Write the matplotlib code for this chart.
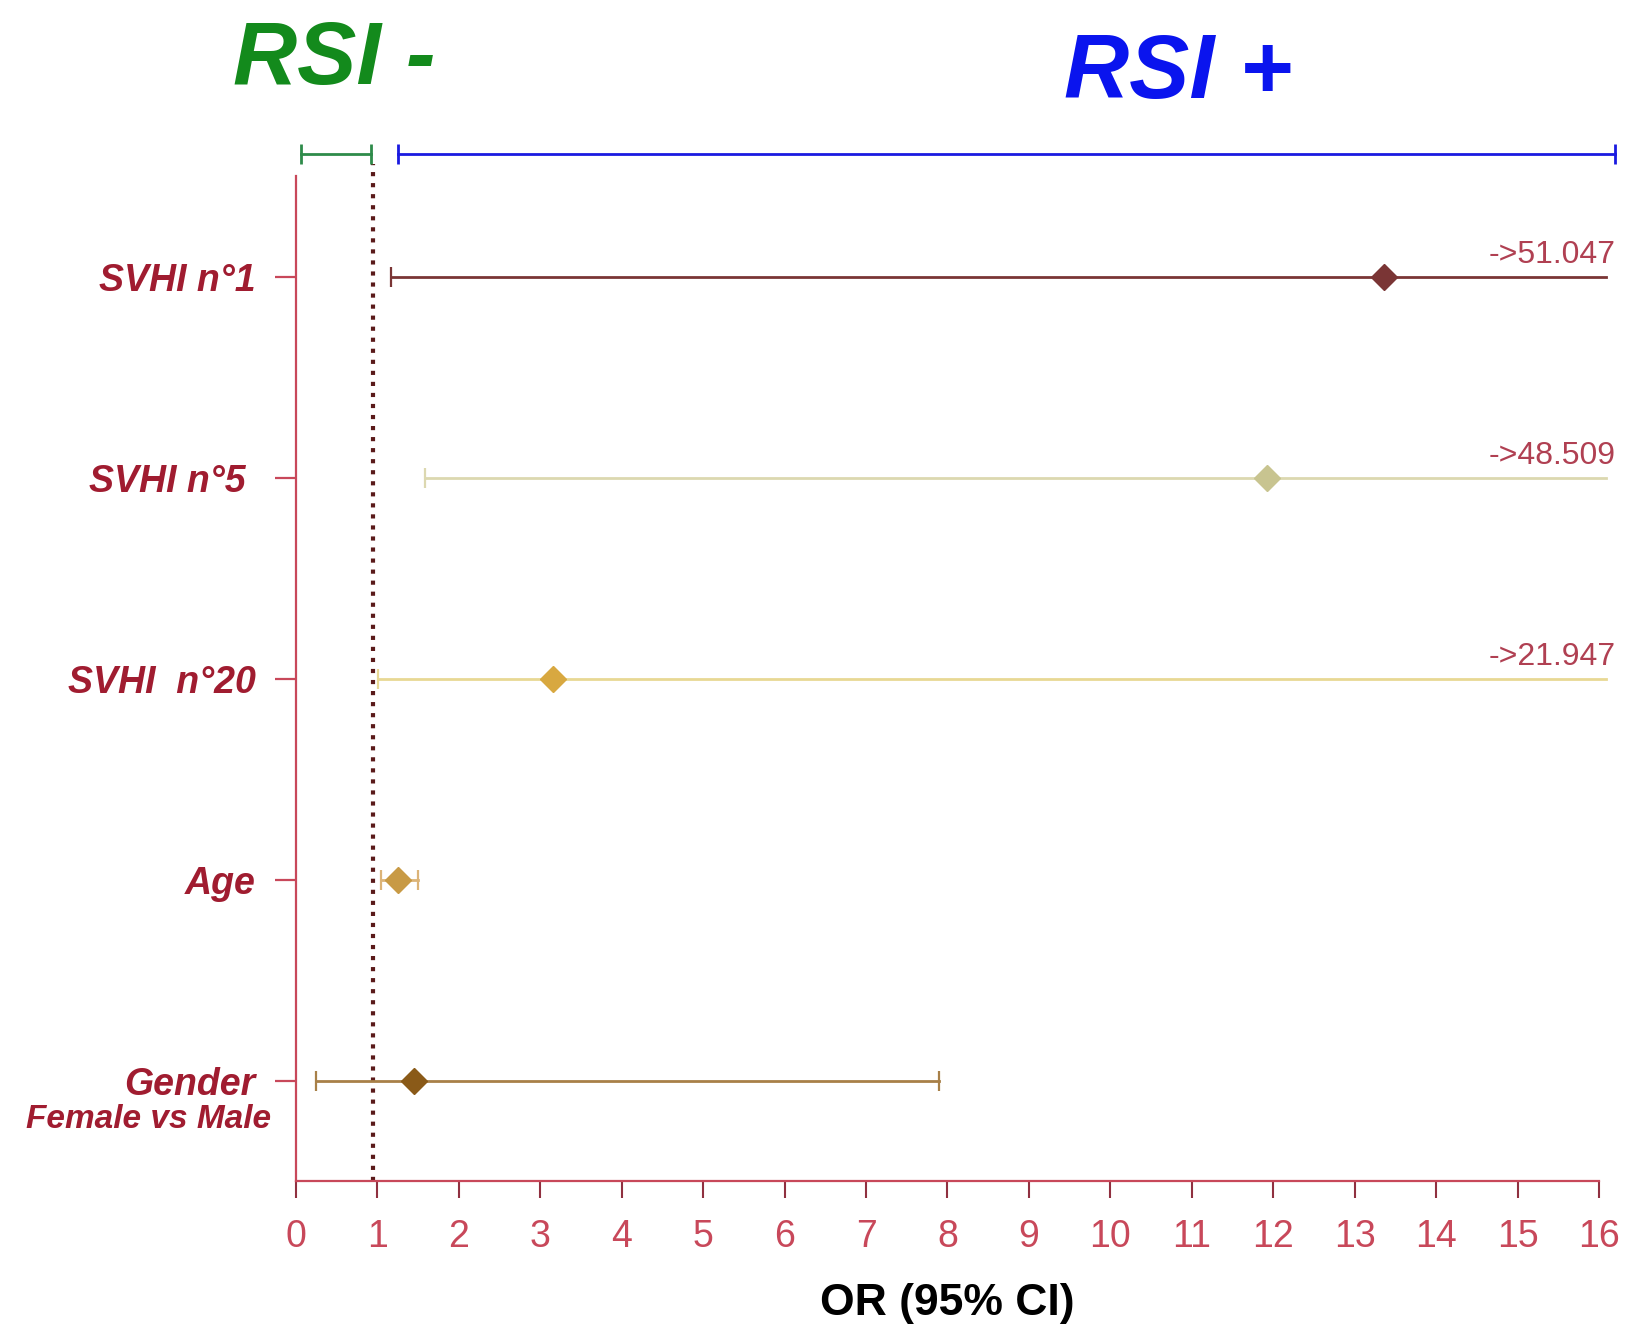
import numpy as np
import matplotlib

matplotlib.use("Agg")
import matplotlib.pyplot as plt

plt.rcParams["font.family"] = ["Liberation Sans", "DejaVu Sans"]

# forest plot data (OR and 95% CI), top to bottom
labels = ["SVHI n°1", "SVHI n°5 ", "SVHI  n°20", "Age", "Gender"]
odds = [13.36, 11.92, 3.15, 1.25, 1.45]
ci_low = [1.17, 1.59, 1.01, 1.05, 0.24]
ci_high = [51.047, 48.509, 21.947, 1.50, 7.89]
line_colors = ["#7a3535", "#dcd8b0", "#e8d894", "#dcb478", "#a88048"]
marker_colors = ["#7a3535", "#c8c490", "#d8a840", "#c89a45", "#8a5a18"]

# header ranges
rsi_neg = (0.06, 0.92)
rsi_pos = (1.25, 16.2)
ref_x = 0.94  # dotted no-effect line as drawn in the source

xmax = 16
x_trunc = 16.08
ypos = np.arange(len(labels), 0, -1)

red_axis = "#c8485a"
red_text = "#a01c30"

fig = plt.figure(figsize=(16.28, 13.32), dpi=100)
ax = fig.add_axes([0.1818, 0.113, 0.8004, 0.7545])

ax.set_xlim(0, xmax)
ax.set_ylim(0.5, 5.5)

# reference line near OR = 1
ax.plot([ref_x, ref_x], [0.5, 5.56], ls=":", lw=3, color="#5a1a1a", clip_on=False, zorder=2)

for y, o, lo, hi, lc, mc in zip(ypos, odds, ci_low, ci_high, line_colors, marker_colors):
    right = min(hi, x_trunc)
    ax.plot([lo, right], [y, y], color=lc, lw=2, clip_on=False, zorder=3)
    ax.plot([lo], [y], marker="|", ms=15, mew=1.6, color=lc, zorder=3)
    if hi > xmax:
        ax.annotate("->%.3f" % hi, (16.2, y), xytext=(0, 5), textcoords="offset points",
                    ha="right", va="bottom", fontsize=23, color="#b04052",
                    annotation_clip=False)
    else:
        ax.plot([hi], [y], marker="|", ms=15, mew=1.6, color=lc, zorder=3)
    ax.plot([o], [y], marker="D", ms=13, color=mc, mec=mc, zorder=4)

# RSI - / RSI + ranges above the plot
yh = 5.613
for (a, b), c in zip([rsi_neg, rsi_pos], ["#2e8b4a", "#1a1ae0"]):
    ax.plot([a, b], [yh, yh], color=c, lw=2, clip_on=False)
    ax.plot([a, b], [yh, yh], ls="none", marker="|", ms=15, mew=2, color=c, clip_on=False)

fig.text(0.2055, 0.954, "RSI -", color="#138a1c", fontsize=64, fontweight="bold",
         fontstyle="italic", ha="center", va="center")
fig.text(0.7235, 0.944, "RSI +", color="#0a14ee", fontsize=65, fontweight="bold",
         fontstyle="italic", ha="center", va="center")

# axes styling
for s in ["top", "right"]:
    ax.spines[s].set_visible(False)
for s in ["left", "bottom"]:
    ax.spines[s].set_color(red_axis)
    ax.spines[s].set_linewidth(1.6)

ax.set_xticks(np.arange(0, xmax + 1, 1))
ax.tick_params(axis="x", length=12, width=1.5, color="#903040", labelsize=27,
               labelcolor="#c8485a", pad=15)
ax.set_yticks(ypos)
ax.set_yticklabels(labels)
ax.tick_params(axis="y", length=15, width=1.6, color=red_axis, labelsize=27, pad=14)
for t in ax.get_yticklabels():
    t.set_color(red_text)
    t.set_fontweight("bold")
    t.set_fontstyle("italic")

ax.text(-0.3, ypos[-1] - 0.19, "Female vs Male", color=red_text, fontsize=24,
        fontweight="bold", fontstyle="italic", ha="right", va="center")

ax.set_xlabel("OR (95% CI)", fontsize=32, fontweight="bold", labelpad=20)

fig.savefig("out.png", dpi=100)
